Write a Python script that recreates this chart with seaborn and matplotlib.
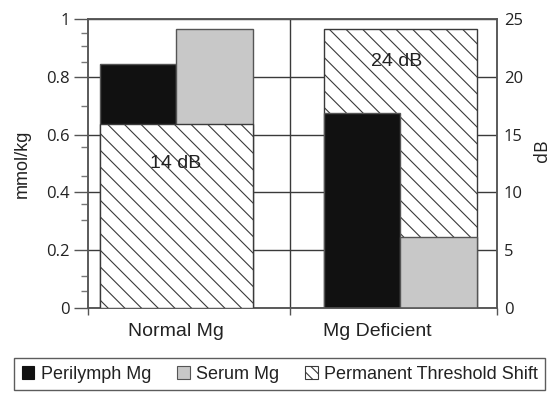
import matplotlib
matplotlib.use("Agg")
import matplotlib.pyplot as plt
from matplotlib.patches import Patch
import seaborn as sns
import pandas as pd

# ---- data ----
groups = ["Normal Mg", "Mg Deficient"]
perilymph_mg = [0.845, 0.675]          # mmol/kg
serum_mg = [0.965, 0.245]              # mmol/kg
pts_db = [15.9, 24.1]                  # Permanent Threshold Shift bar heights (dB axis)
pts_labels = ["14 dB", "24 dB"]
left_ticks = [0, 0.2, 0.4, 0.6, 0.8, 1.0]
left_tick_labels = ["0", "0.2", "0.4", "0.6", "0.8", "1"]
right_ticks = [0, 5, 10, 15, 20, 25]
series_names = ["Perilymph Mg", "Serum Mg", "Permanent Threshold Shift"]

sns.set_style("white")
plt.rcParams["font.family"] = ["Liberation Sans", "DejaVu Sans"]
plt.rcParams["hatch.linewidth"] = 0.8

BLACK = "#111111"
GRAY = "#c8c8c8"
EDGE = "#555555"
LINE = "#3a3a3a"
HATCH = "\\\\"

fig = plt.figure(figsize=(5.51, 3.95), dpi=100)
ax = fig.add_axes([88 / 551, 1 - 308 / 395, 409 / 551, 289 / 395])
ax2 = ax.twinx()   # dB axis (back): grid + PTS bars
ax3 = ax.twinx()   # dB axis (front): PTS bar that overlaps the Mg bars

ax2.set_zorder(0)
ax.set_zorder(1)
ax3.set_zorder(2)
ax.patch.set_visible(False)
ax3.patch.set_visible(False)

df_mg = pd.DataFrame({
    "group": groups * 2,
    "measure": ["Perilymph Mg"] * 2 + ["Serum Mg"] * 2,
    "value": perilymph_mg + serum_mg,
})
df_pts = pd.DataFrame({"group": groups, "db": pts_db})

W = 0.683
pts_kw = dict(data=df_pts, x="group", y="db", order=groups, width=W,
              color="white", saturation=1, edgecolor=LINE, linewidth=1.0,
              hatch=HATCH, errorbar=None)
sns.barplot(ax=ax2, **pts_kw)
sns.barplot(ax=ax3, **pts_kw)
# back axis keeps the "Mg Deficient" PTS bar, front axis the "Normal Mg" one
ax2.patches[0].set_visible(False)
ax3.patches[1].set_visible(False)

# Mg bars on the mmol/kg axis
sns.barplot(data=df_mg, x="group", y="value", hue="measure", order=groups,
            hue_order=["Perilymph Mg", "Serum Mg"], ax=ax, width=W,
            palette=[BLACK, GRAY], saturation=1, edgecolor=EDGE, linewidth=1.0,
            errorbar=None, legend=False)

xlim = (-0.393, 1.433)
divider = 0.51
for a in (ax, ax2, ax3):
    a.set_xlim(*xlim)
    a.set_xlabel("")

# grid and divider on the back axis
ax2.set_ylim(0, 25)
ax2.set_yticks(right_ticks)
ax2.set_axisbelow(True)
ax2.grid(axis="y", color=LINE, linewidth=1.0)
ax2.axvline(divider, color=LINE, linewidth=1.0, zorder=0.5)
ax2.tick_params(axis="y", length=0, pad=5, labelsize=12, labelcolor="#222222")
for lab in ax2.get_yticklabels():
    lab.set_fontfamily(["Open Sans", "DejaVu Sans"])
ax2.set_ylabel("dB", fontsize=13, family=["Open Sans", "DejaVu Sans"], color="#222222")
ax2.yaxis.set_label_coords(1.088, 0.545)

# front dB axis: no decorations
ax3.set_ylim(0, 25)
ax3.set_ylabel("")
ax3.set_yticks([])
for s in ax3.spines.values():
    s.set_visible(False)

# left axis
ax.set_ylim(0, 1)
ax.set_yticks(left_ticks)
ax.set_yticklabels(left_tick_labels)
ax.set_yticks([0.06, 0.11, 0.305, 0.36, 0.457, 0.557, 0.70, 0.85, 0.905, 0.95], minor=True)
ax.tick_params(axis="y", which="major", direction="out", length=10, width=1,
               color=EDGE, pad=3, labelsize=12, labelcolor="#222222", left=True)
ax.tick_params(axis="y", which="minor", direction="out", length=5, width=1,
               color="#777777", left=True)
for lab in ax.get_yticklabels():
    lab.set_fontfamily(["Open Sans", "DejaVu Sans"])
ax.set_ylabel("mmol/kg", fontsize=13, color="#222222")
ax.yaxis.set_label_coords(-0.139, 0.5)

# x axis: labels + boundary ticks
ax.set_xticks([0, 0.9])
ax.set_xticklabels(groups)
ax.set_xticks([xlim[0], divider, xlim[1]], minor=True)
ax.tick_params(axis="x", which="major", length=0, pad=11, labelsize=14, labelcolor="#222222")
ax.tick_params(axis="x", which="minor", direction="out", length=5, width=1,
               color=EDGE, bottom=True)

for a in (ax, ax2):
    for s in a.spines.values():
        s.set_color(EDGE)
        s.set_linewidth(1.1)

# PTS annotations (front)
ax3.text(0, 12.5, pts_labels[0], ha="center", va="center", fontsize=14, color="#222222")
ax3.text(0.987, 21.3, pts_labels[1], ha="center", va="center", fontsize=14, color="#222222")

# legend
handles = [
    Patch(facecolor=BLACK, edgecolor=BLACK, linewidth=0.8),
    Patch(facecolor=GRAY, edgecolor=EDGE, linewidth=0.8),
    Patch(facecolor="white", edgecolor=LINE, linewidth=0.8, hatch="\\\\\\"),
]
leg = fig.legend(handles, series_names, loc="center", bbox_to_anchor=(0.508, 0.053),
                 ncol=3, frameon=True, fancybox=False, fontsize=13,
                 handlelength=0.7, handleheight=0.7, handletextpad=0.35,
                 columnspacing=1.45, borderpad=0.4, borderaxespad=0)
leg.get_frame().set_edgecolor("#333333")
leg.get_frame().set_linewidth(1.0)
for t in leg.get_texts():
    t.set_color("#222222")

fig.savefig("out.png", dpi=100)
